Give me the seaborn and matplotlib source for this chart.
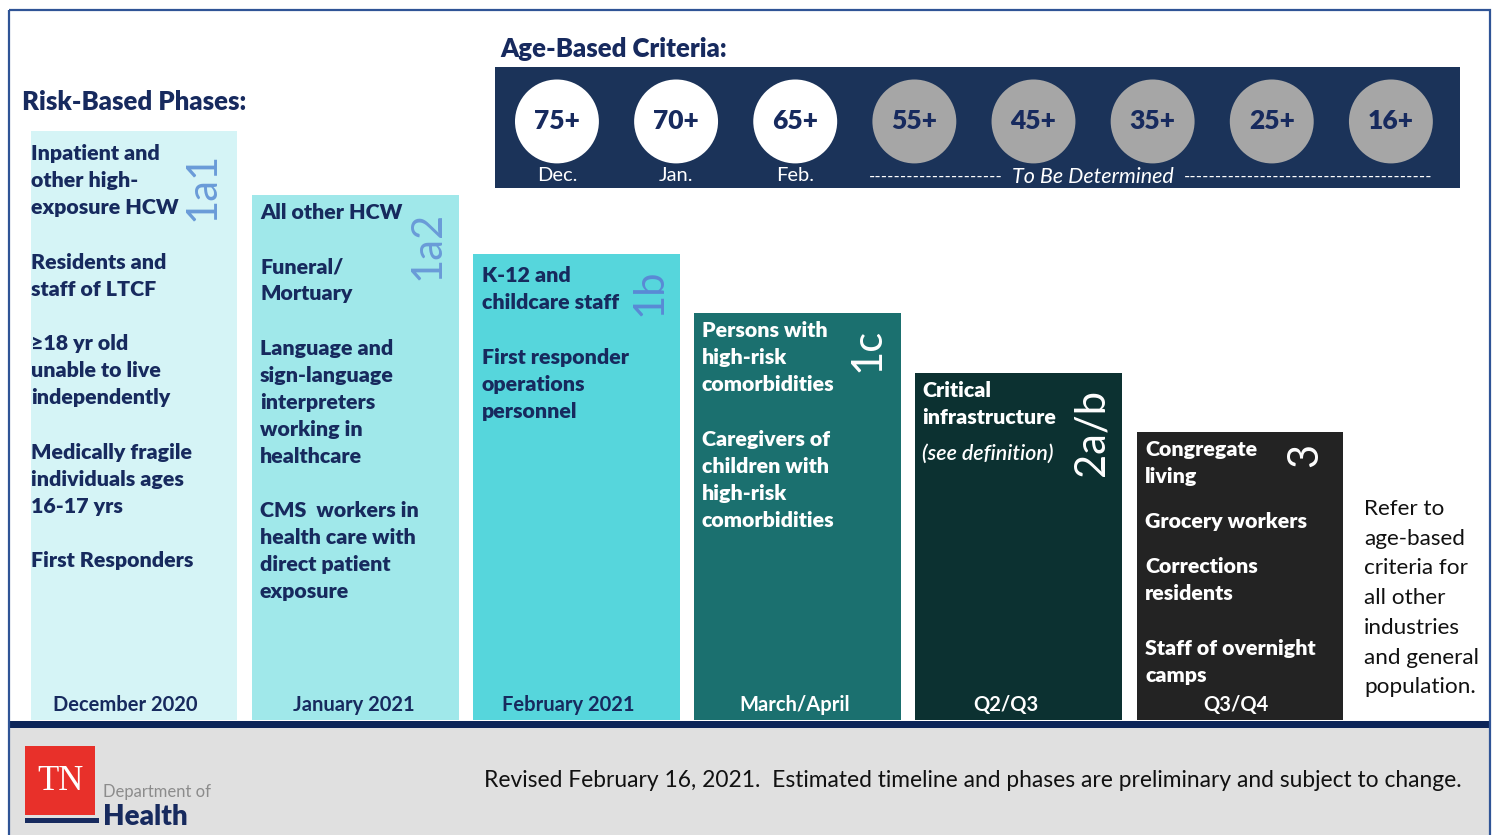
import matplotlib
matplotlib.use("Agg")
import matplotlib.pyplot as plt
import seaborn as sns
import pandas as pd
from matplotlib.patches import Rectangle

# ---------------- data ----------------
phases = ["1a1", "1a2", "1b", "1c", "2a/b", "3"]
periods = ["December 2020", "January 2021", "February 2021", "March/April", "Q2/Q3", "Q3/Q4"]
bar_heights = [589, 525, 466, 407, 347, 288]   # step height of each phase block
bar_colors = ["#D5F4F6", "#A0E8EA", "#56D6DC", "#1B706F", "#0C3131", "#232323"]

groups_1a1 = [["Inpatient and", "other high-", "exposure HCW"],
              ["Residents and", "staff of LTCF"],
              ["\u226518 yr old", "unable to live", "independently"],
              ["Medically fragile", "individuals ages", "16-17 yrs"],
              ["First Responders"]]
groups_1a2 = [["All other HCW"],
              ["Funeral/", "Mortuary"],
              ["Language and", "sign-language", "interpreters", "working in", "healthcare"],
              ["CMS  workers in", "health care with", "direct patient", "exposure"]]
groups_1b = [["K-12 and", "childcare staff"],
             ["First responder", "operations", "personnel"]]
groups_1c = [["Persons with", "high-risk", "comorbidities"],
             ["Caregivers of", "children with", "high-risk", "comorbidities"]]
groups_2ab = [["Critical", "infrastructure"],
              ["(see definition)"]]
groups_3 = [["Congregate", "living"],
            ["Grocery workers"],
            ["Corrections", "residents"],
            ["Staff of overnight", "camps"]]

ages = ["75+", "70+", "65+", "55+", "45+", "35+", "25+", "16+"]
age_months = ["Dec.", "Jan.", "Feb.", "", "", "", "", ""]
age_status = ["open", "open", "open", "tbd", "tbd", "tbd", "tbd", "tbd"]

side_note = ["Refer to", "age-based", "criteria for", "all other",
             "industries", "and general", "population."]
footer_note = "Revised February 16, 2021.  Estimated timeline and phases are preliminary and subject to change."

# ---------------- style ----------------
sns.set_theme(style="white")
plt.rcParams["font.family"] = ["Lato", "DejaVu Sans"]

NAVY = "#172A5E"
BOLD = "heavy"
W, H = 1494, 835
fig = plt.figure(figsize=(W / 100, H / 100), dpi=100)
fig.patch.set_facecolor("white")

# background (pixel coordinates)
bg = fig.add_axes([0, 0, 1, 1], zorder=0)
bg.set_xlim(0, W)
bg.set_ylim(H, 0)
bg.axis("off")
bg.add_patch(Rectangle((9, 728), 1481, 110, facecolor="#E0E0E0", edgecolor="none"))
bg.add_patch(Rectangle((9, 721), 1481, 7, facecolor="#0C2559", edgecolor="none"))
bg.add_patch(Rectangle((9, 10), 1481, 830, facecolor="none", edgecolor="#2F5496", lw=1.6))

# bars
x0, x1 = 23.5, 1350.5
bx = fig.add_axes([x0 / W, (H - 720) / H, (x1 - x0) / W, 720 / H], zorder=1)
df = pd.DataFrame({"phase": phases, "height": bar_heights})
sns.barplot(data=df, x="phase", y="height", hue="phase", palette=bar_colors,
            saturation=1, width=0.935, legend=False, linewidth=0, ax=bx)
bx.set_xlim(-0.5, 5.5)
bx.set_ylim(0, 720)
bx.axis("off")

# age criteria panel
ax_age = fig.add_axes([495 / W, (H - 188) / H, 965 / W, 121 / H], zorder=2)
ax_age.set_facecolor("#1B3359")
age_df = pd.DataFrame({"idx": range(len(ages)), "y": [0.55] * len(ages), "status": age_status})
sns.scatterplot(data=age_df, x="idx", y="y", hue="status",
                palette={"open": "white", "tbd": "#A6A6A6"},
                s=3650, linewidth=0, legend=False, ax=ax_age)
ax_age.set_xlim(-0.52, 7.58)
ax_age.set_ylim(0, 1)
ax_age.set_xticks([])
ax_age.set_yticks([])
ax_age.set_xlabel("")
ax_age.set_ylabel("")
for s in ax_age.spines.values():
    s.set_visible(False)
for i, (a, m) in enumerate(zip(ages, age_months)):
    ax_age.text(i, 0.55, a, ha="center", va="center", color=NAVY,
                fontsize=19, fontweight=BOLD)
    if m:
        ax_age.text(i, 0.1, m, ha="center", va="center", color="white", fontsize=14.5)

# overlay for text (pixel coordinates)
ov = fig.add_axes([0, 0, 1, 1], zorder=5)
ov.set_xlim(0, W)
ov.set_ylim(H, 0)
ov.axis("off")
ov.patch.set_alpha(0)

ov.text(22, 110, "Risk-Based Phases:", color=NAVY, fontsize=18.5, fontweight=BOLD)
ov.text(500, 57, "Age-Based Criteria:", color=NAVY, fontsize=18.5, fontweight=BOLD)

# To be determined
ov.text(1003, 177, "-" * 21, ha="right", va="center", color="white", fontsize=13, style="italic")
ov.text(1093, 177, "To Be Determined", ha="center", va="center", color="white",
        fontsize=15.5, style="italic")
ov.text(1184, 177, "-" * 39, ha="left", va="center", color="white", fontsize=13, style="italic")

STEP = 27


def block(x, starts, groups, color, italic_last=False):
    for gi, (y0, lines) in enumerate(zip(starts, groups)):
        for li, line in enumerate(lines):
            italic = italic_last and gi == len(groups) - 1
            ov.text(x, y0 + li * STEP, line, color=color, fontsize=15.4,
                    fontweight="semibold" if italic else BOLD,
                    style="italic" if italic else "normal", va="baseline")


block(31, [160, 269, 350, 459, 567], groups_1a1, NAVY)
block(260, [219, 273, 355, 517], groups_1a2, NAVY)
block(482, [282, 364], groups_1b, NAVY)
block(702, [337, 446], groups_1c, "white")
block(922, [397, 460], groups_2ab, "white", italic_last=True)
block(1145, [456, 528, 573, 655], groups_3, "white")

# phase labels (rotated)
label_pos = [(203, 186), (428, 245), (650, 292), (868, 350), (1092, 433), (1305, 455)]
label_colors = ["#6A9BD8", "#6A9BD8", "#5A8AD5", "white", "white", "white"]
for p, (lx, ly), c in zip(phases, label_pos, label_colors):
    ov.text(lx, ly, p, rotation=90, ha="center", va="center", color=c,
            fontsize=30, fontweight="normal")

# period labels
period_x = [125, 354, 568, 795, 1005.5, 1235.5]
for cx, per, c in zip(period_x, periods, [NAVY] * 3 + ["white"] * 3):
    ov.text(cx, 711, per, ha="center", va="baseline", color=c, fontsize=14.5,
            fontweight="bold")

# side note
for i, line in enumerate(side_note):
    ov.text(1364, 515 + i * 29.7, line, color="#111111", fontsize=16.2, va="baseline")

# footer
ov.text(484, 787, footer_note, color="#111111", fontsize=16.4, va="baseline")
ov.add_patch(Rectangle((25, 746), 70, 69, facecolor="#E8302A", edgecolor="none"))
ov.text(60, 781, "TN", ha="center", va="center", color="white", fontsize=25,
        family=["Liberation Serif", "DejaVu Serif"])
ov.add_patch(Rectangle((25, 818), 74, 5, facecolor=NAVY, edgecolor="none"))
ov.text(103, 797, "Department of", color="#8C8C8C", fontsize=12, va="baseline")
ov.text(103, 825, "Health", color=NAVY, fontsize=20, fontweight=BOLD, va="baseline")

fig.savefig("out.png", dpi=100)
